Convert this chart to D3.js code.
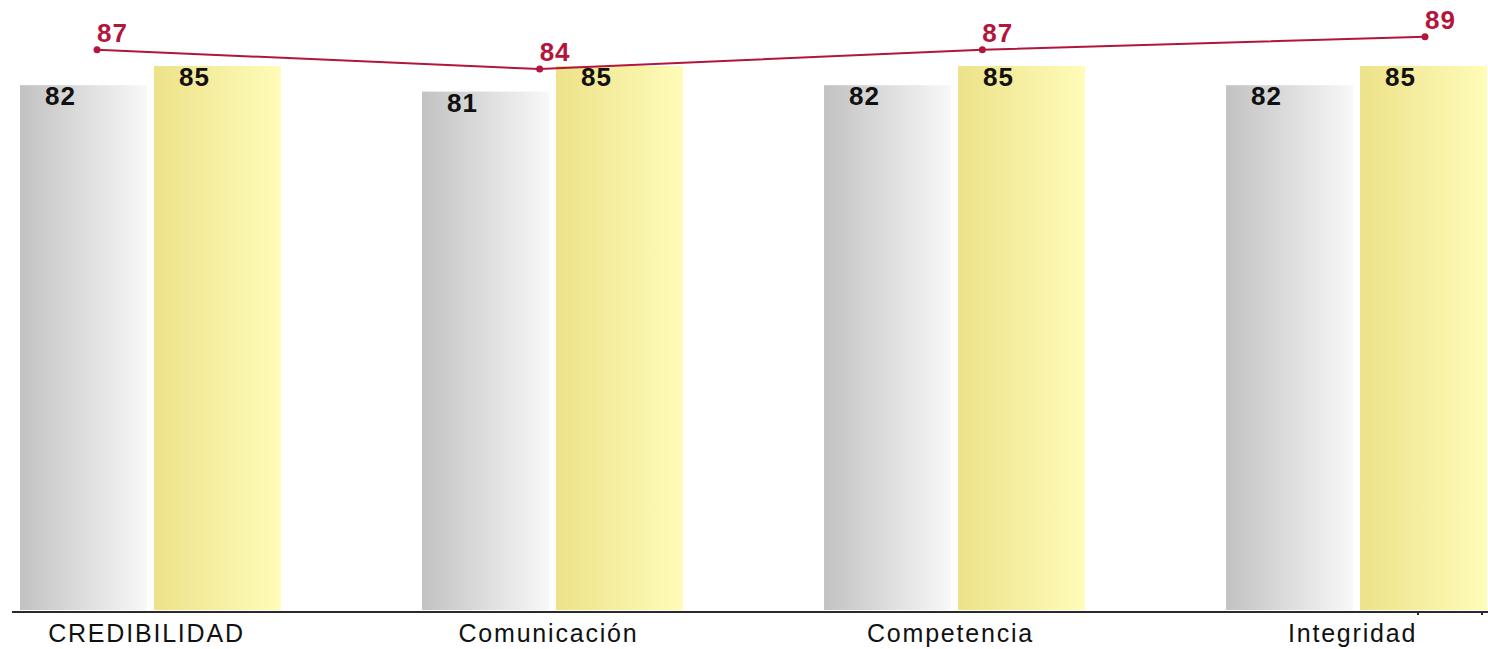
<!DOCTYPE html>
<html>
<head>
<meta charset="utf-8">
<script src="https://cdn.jsdelivr.net/npm/d3@7"></script>
<style>
  html, body { margin: 0; padding: 0; background: #fff; }
  svg { display: block; }
</style>
</head>
<body>
<svg id="chart" width="1488" height="649"></svg>
<script>
const categories = ["CREDIBILIDAD", "Comunicación", "Competencia", "Integridad"];
const seriesGray = [82, 81, 82, 82];
const seriesYellow = [85, 85, 85, 85];
const seriesLine = [87, 84, 87, 89];
const seriesKeys = ["gray", "yellow"];

const svg = d3.select("#chart");
const W = 1488, H = 649;
const baseY = 610;

const defs = svg.append("defs");
function grad(id, c0, c1) {
  const g = defs.append("linearGradient").attr("id", id)
    .attr("x1", "0%").attr("x2", "100%").attr("y1", "0%").attr("y2", "0%");
  g.append("stop").attr("offset", "0%").attr("stop-color", c0);
  g.append("stop").attr("offset", "100%").attr("stop-color", c1);
}
grad("gGray", "#c2c2c2", "#f8f8f8");
grad("gYellow", "#ede28a", "#fffcb9");

const x0 = d3.scaleBand().domain(categories).range([20, 1487])
  .paddingInner(0.351).paddingOuter(0).align(0);
const x1 = d3.scaleBand().domain(seriesKeys).range([0, x0.bandwidth()])
  .paddingInner(0.052).paddingOuter(0);
const yBar = d3.scaleLinear().domain([0, 100]).range([baseY, baseY - 640]);
const xLine = d3.scalePoint().domain(categories).range([97, 1425]).padding(0);
const yLine = d3.scaleLinear().domain([0, 100]).range([baseY, baseY - 644]);

const data = categories.map((c, i) => ({
  cat: c,
  vals: [{ key: "gray", v: seriesGray[i] }, { key: "yellow", v: seriesYellow[i] }]
}));

const groups = svg.append("g").selectAll("g").data(data).join("g")
  .attr("transform", d => `translate(${x0(d.cat)},0)`);

groups.selectAll("rect").data(d => d.vals).join("rect")
  .attr("x", d => x1(d.key))
  .attr("y", d => yBar(d.v))
  .attr("width", x1.bandwidth())
  .attr("height", d => baseY - yBar(d.v))
  .attr("fill", d => d.key === "gray" ? "url(#gGray)" : "url(#gYellow)");

groups.selectAll("text.val").data(d => d.vals).join("text")
  .attr("class", "val")
  .attr("x", d => x1(d.key) + 25)
  .attr("y", d => yBar(d.v) + 20)
  .attr("text-anchor", "start")
  .attr("font-family", "Liberation Sans, Arial, sans-serif")
  .attr("font-weight", "bold")
  .attr("font-size", 26)
  .attr("letter-spacing", 1)
  .attr("fill", "#111")
  .text(d => d.v);

// axis baseline
const axisG = svg.append("g");
axisG.append("line")
  .attr("x1", 12).attr("x2", W).attr("y1", baseY + 2).attr("y2", baseY + 2)
  .attr("stroke", "#2a2a2a").attr("stroke-width", 2);
[1418, 1482].forEach(tx => {
  axisG.append("line").attr("x1", tx).attr("x2", tx)
    .attr("y1", baseY + 2).attr("y2", baseY + 5)
    .attr("stroke", "#2a2a2a").attr("stroke-width", 2);
});

// category labels
svg.append("g").selectAll("text").data(categories).join("text")
  .attr("x", d => x0(d) + x0.bandwidth() / 2 - 4)
  .attr("y", 642)
  .attr("text-anchor", "middle")
  .attr("font-family", "Liberation Sans, Arial, sans-serif")
  .attr("font-size", 25)
  .attr("letter-spacing", 1.8)
  .attr("fill", "#111")
  .text(d => d);

// line series
const red = "#b3163c";
const lineGen = d3.line().x((d, i) => xLine(categories[i])).y(d => yLine(d));
svg.append("path").datum(seriesLine)
  .attr("d", lineGen)
  .attr("fill", "none")
  .attr("stroke", red)
  .attr("stroke-width", 2);

svg.append("g").selectAll("circle").data(seriesLine).join("circle")
  .attr("cx", (d, i) => xLine(categories[i]))
  .attr("cy", d => yLine(d))
  .attr("r", 3.5)
  .attr("fill", red);

svg.append("g").selectAll("text").data(seriesLine).join("text")
  .attr("x", (d, i) => xLine(categories[i]))
  .attr("y", d => yLine(d) - 8)
  .attr("text-anchor", "start")
  .attr("font-family", "Liberation Sans, Arial, sans-serif")
  .attr("font-weight", "bold")
  .attr("font-size", 26)
  .attr("letter-spacing", 1)
  .attr("fill", red)
  .text(d => d);
</script>
</body>
</html>
